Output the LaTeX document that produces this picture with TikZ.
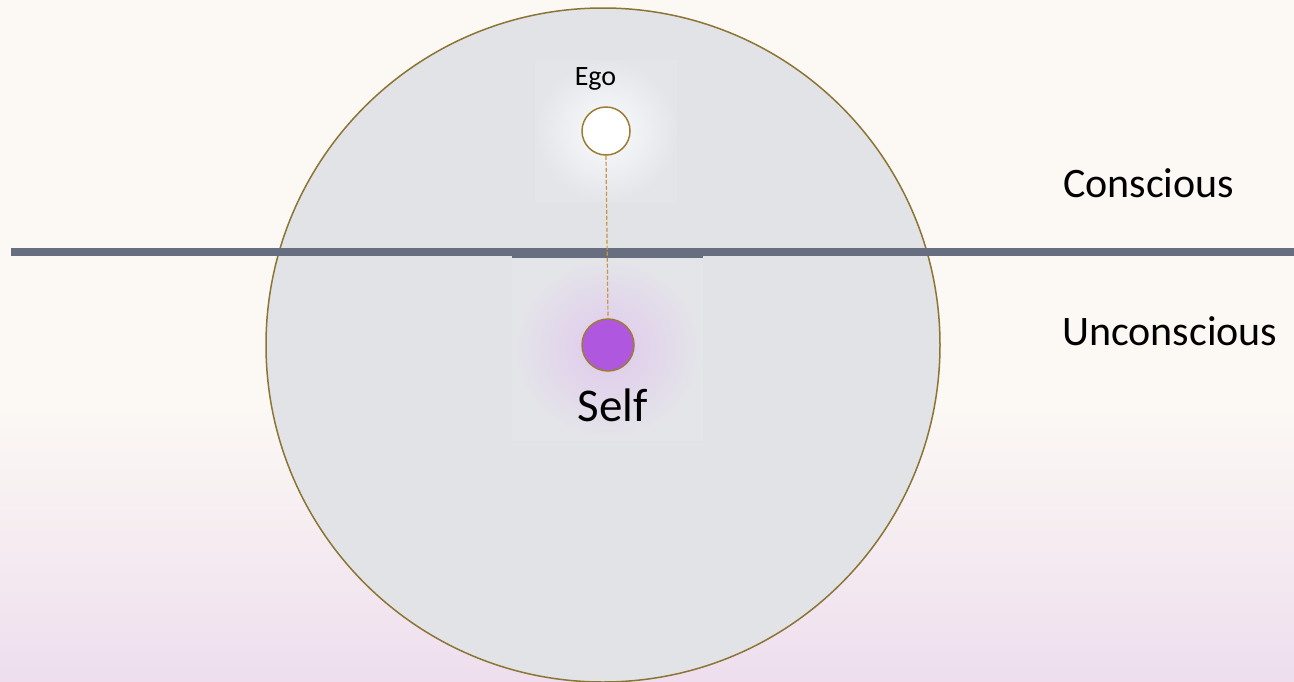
\documentclass[tikz,border=0pt]{standalone}
\usepackage{fontspec}
\setmainfont{Carlito}
\definecolor{bgtop}{HTML}{FCF9F4}
\definecolor{bgbot}{HTML}{EEDEEE}
\definecolor{psyfill}{HTML}{E2E3E7}
\definecolor{psyline}{HTML}{8C7434}
\definecolor{ringgold}{HTML}{9C7C34}
\definecolor{dashgold}{HTML}{C8963C}
\definecolor{barcol}{HTML}{666E80}
\definecolor{selfcol}{HTML}{B057E0}
\definecolor{selfglow}{HTML}{DFC9EC}
\definecolor{egoglow}{HTML}{FAFBFC}
\definecolor{boxfill}{HTML}{E4E5E9}
\tikzset{
  orb/.style={circle, draw=ringgold, line width=1.5pt, inner sep=0pt},
  link/.style={draw=dashgold, line width=1.2pt, dash pattern=on 4pt off 2pt},
  lbl/.style={inner sep=0pt, text=black}
}
\begin{document}
\begin{tikzpicture}[x=1pt,y=-1pt]
\useasboundingbox (0,0) rectangle (1294,681);
% background
\fill[bgtop] (0,0) rectangle (1294,681);
\shade[top color=bgtop, bottom color=bgbot] (0,400) rectangle (1294,681);
% psyche circle
\fill[psyfill] (603,345) circle (337);
\shade[inner color=egoglow, outer color=boxfill] (535,60) rectangle (677,202);
\shade[inner color=selfglow, outer color=boxfill] (512,257) rectangle (703,440);
\draw[psyline, line width=1.5pt] (603,345) circle (337);
% horizon bar
\fill[barcol] (11,248) rectangle (1294,256);
\fill[barcol] (512,255) rectangle (703,257.5);
% nodes
\node[orb, fill=white, minimum size=48pt] (ego) at (606,131) {};
\node[orb, fill=selfcol, minimum size=52pt] (self) at (608,345) {};
\draw[link] (ego.south) -- (self.north);
% labels
\node[lbl, anchor=base, font=\fontsize{28}{32}\selectfont] (egolbl) at (595.5,85) {Ego};
\node[lbl, anchor=base, font=\fontsize{47}{52}\selectfont] (selflbl) at (612.5,421) {Self};
\node[lbl, anchor=base west, font=\fontsize{42}{48}\selectfont] (conlbl) at (1063,197) {Conscious};
\node[lbl, anchor=base west, font=\fontsize{42}{48}\selectfont] (unclbl) at (1062,345) {Unconscious};
\end{tikzpicture}
\end{document}
